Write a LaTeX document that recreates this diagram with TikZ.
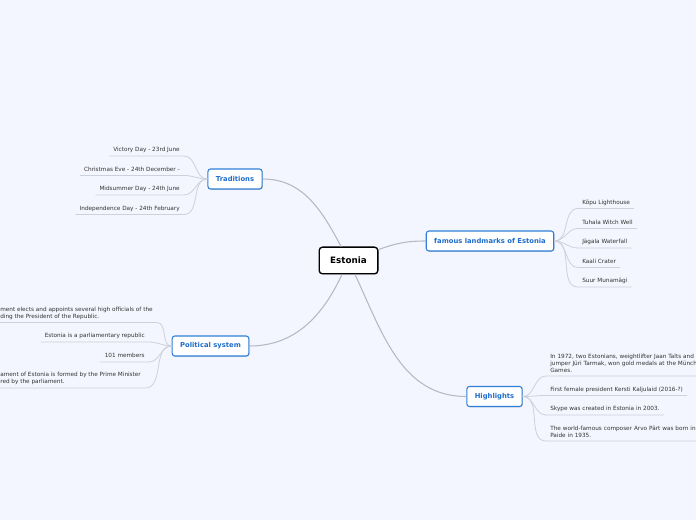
\documentclass[tikz,border=0pt]{standalone}
\usepackage{fontspec}
\setmainfont{DejaVu Sans}
\usetikzlibrary{shadows}
\definecolor{bgblue}{HTML}{F3F6FE}
\definecolor{topicblue}{HTML}{2F7FD8}
\definecolor{topictext}{HTML}{1E6DCC}
\definecolor{branchgray}{HTML}{B5B9C4}
\definecolor{twiggray}{HTML}{CDD1DA}
\definecolor{leaftext}{HTML}{333333}

\begin{document}
\begin{tikzpicture}[x=0.75pt,y=-0.75pt,
  softshadow/.style={drop shadow={shadow xshift=0.5pt,shadow yshift=-0.6pt,opacity=0.25,fill=black!60}},
  central/.style={draw=black,line width=1pt,fill=white,rounded corners=2.5pt,softshadow,
    font=\fontsize{6.6}{8}\selectfont\bfseries,minimum width=44pt,minimum height=20pt},
  topic/.style={draw=topicblue,line width=0.8pt,fill=white,rounded corners=2pt,softshadow,
    text=topictext,font=\fontsize{5.1}{6}\selectfont\bfseries,inner xsep=6pt,minimum height=15pt},
  leaf/.style={text=leaftext,font=\fontsize{4.3}{5.4}\selectfont,inner xsep=3pt,inner ysep=2pt},
  lone/.style={leaf,text height=3.3pt,text depth=1.1pt},
  branch/.style={draw=branchgray,line width=0.8pt},
  twig/.style={draw=twiggray,line width=0.6pt}]

\fill[bgblue] (0,0) rectangle (696,520);
\useasboundingbox (0,0) rectangle (696,520);

\node[central] (est) at (348.5,260.5) {Estonia};
\node[topic] (trad) at (235,179) {Traditions};
\node[topic] (lm) at (490,241) {famous landmarks of Estonia};
\node[topic] (pol) at (210.5,346) {Political system};
\node[topic] (hl) at (494.5,396.5) {Highlights};

\draw[branch] (est) to[out=118,in=0] (trad.east);
\draw[branch] (est) to[out=20,in=180] (lm.west);
\draw[branch] (est) to[out=-115,in=0] (pol.east);
\draw[branch] (est) to[out=-65,in=180] (hl.west);

\node[lone,anchor=south east] (v1) at (184,156) {Victory Day - 23rd June};
\node[lone,anchor=south east] (v2) at (184,175.5) {Christmas Eve - 24th December -};
\node[lone,anchor=south east] (v3) at (184,195) {Midsummer Day - 24th June};
\node[lone,anchor=south east] (v4) at (184,214.5) {Independence Day - 24th February};

\node[lone,anchor=south west] (k1) at (578,208.5) {Kõpu Lighthouse};
\node[lone,anchor=south west] (k2) at (578,228.5) {Tuhala Witch Well};
\node[lone,anchor=south west] (k3) at (578,248) {Jägala Waterfall};
\node[lone,anchor=south west] (k4) at (578,267.5) {Kaali Crater};
\node[lone,anchor=south west] (k5) at (578,287) {Suur Munamägi};

\node[leaf,align=left,anchor=south west] (p1) at (-4,322.5)
  {ment elects and appoints several high officials of the\\ding the President of the Republic.};
\node[lone,anchor=south east] (p2) at (149,342) {Estonia is a parliamentary republic};
\node[lone,anchor=south east] (p3) at (149,362) {101 members};
\node[leaf,align=left,anchor=south west] (p4) at (-4,388)
  {ament of Estonia is formed by the Prime Minister\\red by the parliament.};

\node[leaf,align=left,text width=125pt,anchor=south west] (h1) at (546,376)
  {In 1972, two Estonians, weightlifter Jaan Talts and h\\jumper Jüri Tarmak, won gold medals at the Münche\\Games.};
\node[lone,anchor=south west] (h2) at (546,395.5) {First female president Kersti Kaljulaid (2016-?)};
\node[lone,anchor=south west] (h3) at (546,415) {Skype was created in Estonia in 2003.};
\node[leaf,align=left,text width=125pt,anchor=south west] (h4) at (546,441)
  {The world-famous composer Arvo Pärt was born in th\\Paide in 1935.};

\foreach \v in {v1,v2,v3,v4}
  \draw[twig] (trad.west) to[out=180,in=0] (\v.south east) -- (\v.south west);
\foreach \k in {k1,k2,k3,k4,k5}
  \draw[twig] (lm.east) to[out=0,in=180] (\k.south west) -- (\k.south east);
\foreach \p in {p1,p2,p3,p4}
  \draw[twig] (pol.west) to[out=180,in=0] (\p.south east) -- (\p.south west);
\foreach \h in {h1,h2,h3,h4}
  \draw[twig] (hl.east) to[out=0,in=180] (\h.south west) -- (\h.south east);
\end{tikzpicture}
\end{document}
